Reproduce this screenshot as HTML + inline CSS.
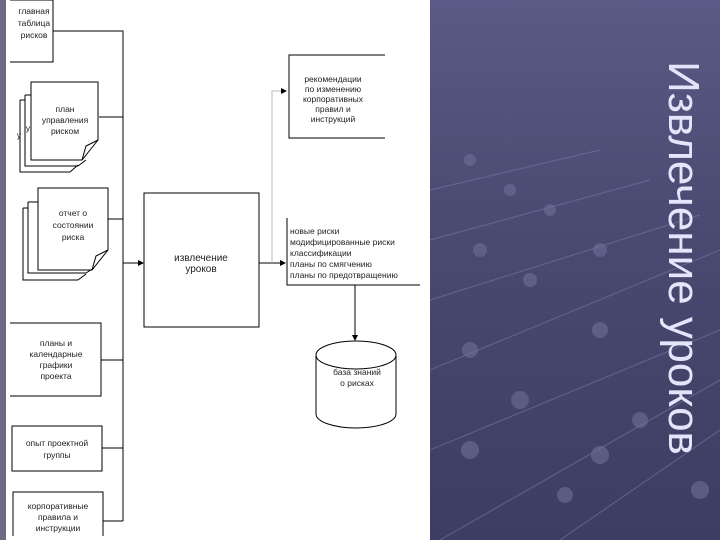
<!DOCTYPE html>
<html><head><meta charset="utf-8"><style>
html,body{margin:0;padding:0}
body{width:720px;height:540px;overflow:hidden;position:relative;background:linear-gradient(180deg,#5a5a86 0%,#4a4a72 40%,#3d3d63 100%);font-family:"Liberation Sans",sans-serif}
#w{position:absolute;left:0;top:0;width:430px;height:540px;background:#fff;border-left:6px solid #6b6b86;box-sizing:border-box}
#t{position:absolute;left:683px;top:258px;transform:translate(-50%,-50%) rotate(90deg);white-space:nowrap;font-size:44px;color:#e4e4fa}
</style></head><body>
<svg width="720" height="540" style="position:absolute;left:0;top:0">
<g stroke="#7a7aa6" stroke-width="1.2" opacity="0.5" fill="none">
<path d="M430 190 L600 150 M430 240 L650 180 M430 300 L700 215 M430 370 L720 250 M430 450 L720 330 M440 540 L720 380 M560 540 L720 430"/>
</g>
<g fill="#6e6e98" opacity="0.6">
<circle cx="470" cy="160" r="6"/><circle cx="510" cy="190" r="6"/><circle cx="550" cy="210" r="6"/><circle cx="480" cy="250" r="7"/><circle cx="530" cy="280" r="7"/><circle cx="600" cy="250" r="7"/><circle cx="470" cy="350" r="8"/><circle cx="520" cy="400" r="9"/><circle cx="600" cy="330" r="8"/><circle cx="640" cy="420" r="8"/><circle cx="470" cy="450" r="9"/><circle cx="600" cy="455" r="9"/><circle cx="700" cy="490" r="9"/><circle cx="565" cy="495" r="8"/>
</g>
</svg>
<div id="w"></div>
<svg width="430" height="540" style="position:absolute;left:0;top:0" font-family="Liberation Sans, sans-serif" font-size="8.5" fill="#222">
<defs><marker id="a" markerWidth="6" markerHeight="6" refX="5" refY="3" orient="auto"><path d="M0,0 L6,3 L0,6z" fill="#000"/></marker></defs>
<g stroke="#000" stroke-width="1" fill="none">
<path d="M10 0 H53 V62 H10"/>
<path d="M53 31 H123 V521"/>
<path d="M20 100 V172 H70 M20 100 H25"/>
<path d="M25 95 V166 H78 M25 95 H31"/>
<path d="M31 82 H98 V140 L82 160 H31 Z" fill="#fff"/>
<path d="M82 160 L86 146 L98 140"/>
<path d="M78 166 L86 160 M70 172 L78 165"/>
<path d="M99 117 H123"/>
<path d="M23 208 V280 H78 M23 208 H28"/>
<path d="M28 202 V273 H86 M28 202 H38"/>
<path d="M38 188 H108 V250 L92 270 H38 Z" fill="#fff"/>
<path d="M92 270 L96 256 L108 250"/>
<path d="M86 273 L94 268 M78 280 L86 274"/>
<path d="M108 219 H123"/>
<path d="M123 263 H143" marker-end="url(#a)"/>
<path d="M10 323 H101 V396 H10"/>
<path d="M101 360 H123"/>
<rect x="12" y="426" width="90" height="45"/>
<path d="M102 448 H123"/>
<path d="M13 536 V492 H103 V536"/>
<path d="M103 521 H123"/>
<rect x="144" y="193" width="115" height="134"/>
<path d="M259 263 H285" marker-end="url(#a)"/>
<path d="M272 263 V91 H285" stroke="#bbb"/>
<path d="M285 91 H286" marker-end="url(#a)"/>
<path d="M385 55 H289 V138 H385"/>
<path d="M287 218 V285 H420"/>
<path d="M355 285 V340" marker-end="url(#a)"/>
<path d="M316 355 V414 A40 14 0 0 0 396 414 V355"/>
<ellipse cx="356" cy="355" rx="40" ry="14" fill="#fff"/>
</g>
<g text-anchor="middle">
<text x="34" y="14">главная</text><text x="34" y="26">таблица</text><text x="34" y="38">рисков</text>
<text x="65" y="112">план</text><text x="65" y="123">управления</text><text x="65" y="134">риском</text>
<text x="19" y="138">у</text><text x="28" y="131">у</text>
<text x="73" y="216">отчет о</text><text x="73" y="228">состоянии</text><text x="73" y="240">риска</text>
<text x="56" y="346">планы и</text><text x="56" y="357">календарные</text><text x="56" y="368">графики</text><text x="56" y="379">проекта</text>
<text x="57" y="446">опыт проектной</text><text x="57" y="458">группы</text>
<text x="58" y="509">корпоративные</text><text x="58" y="520">правила и</text><text x="58" y="531">инструкции</text>
<text x="201" y="261" font-size="10">извлечение</text><text x="201" y="272" font-size="10">уроков</text>
<text x="333" y="82">рекомендации</text><text x="333" y="92">по изменению</text><text x="333" y="102">корпоративных</text><text x="333" y="112">правил и</text><text x="333" y="122">инструкций</text>
<text x="357" y="375">база знаний</text><text x="357" y="386">о рисках</text>
</g>
<g>
<text x="290" y="234">новые риски</text><text x="290" y="245">модифицированные риски</text><text x="290" y="256">классификации</text><text x="290" y="267">планы по смягчению</text><text x="290" y="278">планы по предотвращению</text>
</g>
</svg>
<div id="t">Извлечение уроков</div>
</body></html>
